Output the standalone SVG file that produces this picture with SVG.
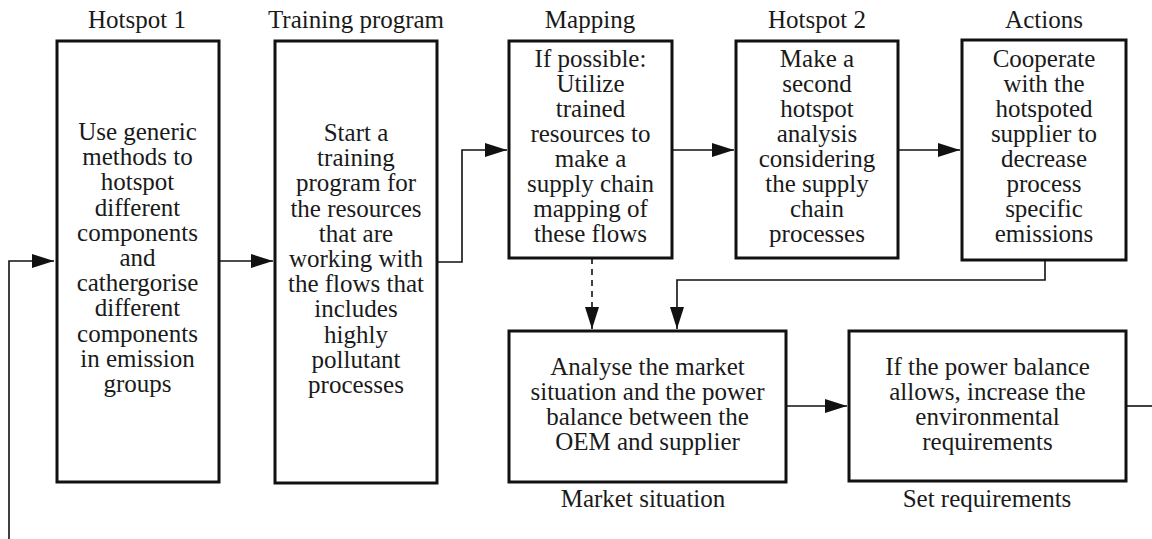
<svg xmlns="http://www.w3.org/2000/svg" width="1152" height="539" viewBox="0 0 1152 539">
<style>
.box{fill:#fff;stroke:#111;stroke-width:3}
.t{font-family:"Liberation Serif",serif;font-size:25px;fill:#1a1a1a;text-anchor:middle}
.c{fill:none;stroke:#111;stroke-width:1.6}
.d{stroke-dasharray:6 5}
</style>
<defs>
<marker id="ah" markerUnits="userSpaceOnUse" markerWidth="24" markerHeight="16" refX="22" refY="7" orient="auto">
<path d="M0,0 L22,7 L0,14 Z" fill="#111"/>
</marker>
</defs>
<rect width="1152" height="539" fill="#fff"/>
<g id="connectors">
<path class="c" d="M9,539 V261 H54" marker-end="url(#ah)"/>
<path class="c" d="M219,261 H273" marker-end="url(#ah)"/>
<path class="c" d="M437,262 H462 V150 H507" marker-end="url(#ah)"/>
<path class="c" d="M672,150 H734" marker-end="url(#ah)"/>
<path class="c" d="M898,150 H960" marker-end="url(#ah)"/>
<path class="c" d="M1045,260 V280 H677 V329" marker-end="url(#ah)"/>
<path class="c d" d="M592,258 V329" marker-end="url(#ah)"/>
<path class="c" d="M786,406 H847" marker-end="url(#ah)"/>
<path class="c" d="M1126,406 H1152"/>
</g>
<g id="hotspot1">
<text class="t" x="137" y="28">Hotspot 1</text>
<rect class="box" x="57" y="41" width="162" height="441"/>
<text class="t"><tspan x="137.5" y="140">Use generic</tspan><tspan x="137.5" y="165.2">methods to</tspan><tspan x="137.5" y="190.4">hotspot</tspan><tspan x="137.5" y="215.6">different</tspan><tspan x="137.5" y="240.8">components</tspan><tspan x="137.5" y="266">and</tspan><tspan x="137.5" y="291.2">cathergorise</tspan><tspan x="137.5" y="316.4">different</tspan><tspan x="137.5" y="341.6">components</tspan><tspan x="137.5" y="366.8">in emission</tspan><tspan x="137.5" y="392">groups</tspan></text>
</g>
<g id="training">
<text class="t" x="356" y="28">Training program</text>
<rect class="box" x="275" y="41" width="162" height="442"/>
<text class="t"><tspan x="356" y="141">Start a</tspan><tspan x="356" y="166.2">training</tspan><tspan x="356" y="191.4">program for</tspan><tspan x="356" y="216.6">the resources</tspan><tspan x="356" y="241.8">that are</tspan><tspan x="356" y="267">working with</tspan><tspan x="356" y="292.2">the flows that</tspan><tspan x="356" y="317.4">includes</tspan><tspan x="356" y="342.6">highly</tspan><tspan x="356" y="367.8">pollutant</tspan><tspan x="356" y="393">processes</tspan></text>
</g>
<g id="mapping">
<text class="t" x="590" y="28">Mapping</text>
<rect class="box" x="509" y="41" width="163" height="217"/>
<text class="t"><tspan x="590.5" y="67">If possible:</tspan><tspan x="590.5" y="92">Utilize</tspan><tspan x="590.5" y="117">trained</tspan><tspan x="590.5" y="142">resources to</tspan><tspan x="590.5" y="167">make a</tspan><tspan x="590.5" y="192">supply chain</tspan><tspan x="590.5" y="217">mapping of</tspan><tspan x="590.5" y="242">these flows</tspan></text>
</g>
<g id="hotspot2">
<text class="t" x="817" y="28">Hotspot 2</text>
<rect class="box" x="736" y="41" width="162" height="217"/>
<text class="t"><tspan x="817" y="67">Make a</tspan><tspan x="817" y="92">second</tspan><tspan x="817" y="117">hotspot</tspan><tspan x="817" y="142">analysis</tspan><tspan x="817" y="167">considering</tspan><tspan x="817" y="192">the supply</tspan><tspan x="817" y="217">chain</tspan><tspan x="817" y="242">processes</tspan></text>
</g>
<g id="actions">
<text class="t" x="1044" y="28">Actions</text>
<rect class="box" x="962" y="40" width="164" height="220"/>
<text class="t"><tspan x="1044" y="67">Cooperate</tspan><tspan x="1044" y="92">with the</tspan><tspan x="1044" y="117">hotspoted</tspan><tspan x="1044" y="142">supplier to</tspan><tspan x="1044" y="167">decrease</tspan><tspan x="1044" y="192">process</tspan><tspan x="1044" y="217">specific</tspan><tspan x="1044" y="242">emissions</tspan></text>
</g>
<g id="market">
<rect class="box" x="509" y="331" width="277" height="151"/>
<text class="t"><tspan x="647.5" y="375">Analyse the market</tspan><tspan x="647.5" y="400">situation and the power</tspan><tspan x="647.5" y="425">balance between the</tspan><tspan x="647.5" y="450">OEM and supplier</tspan></text>
<text class="t" x="643" y="507">Market situation</text>
</g>
<g id="setreq">
<rect class="box" x="849" y="331" width="277" height="150"/>
<text class="t"><tspan x="987.5" y="375">If the power balance</tspan><tspan x="987.5" y="400">allows, increase the</tspan><tspan x="987.5" y="425">environmental</tspan><tspan x="987.5" y="450">requirements</tspan></text>
<text class="t" x="987" y="507">Set requirements</text>
</g>
</svg>
